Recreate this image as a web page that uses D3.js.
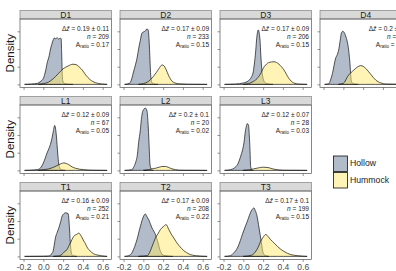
<!DOCTYPE html>
<html><head><meta charset="utf-8">
<script src="https://cdn.jsdelivr.net/npm/d3@7"></script>
<style>
html,body{margin:0;padding:0;background:#fff;}
svg{display:block;font-family:"Liberation Sans",Arial,sans-serif;}
</style></head>
<body><svg id="chart" width="396" height="271"></svg>
<script>
// ---- data ----
const panels = ["D1","D2","D3","D4","L1","L2","L3","T1","T2","T3"];
const dzMean = ["0.19","0.17","0.17","0.2","0.12","0.2","0.12","0.16","0.17","0.17"];
const dzSd   = ["0.11","0.09","0.09","0.1","0.09","0.1","0.07","0.09","0.09","0.1"];
const nObs   = ["209","233","206","195","67","20","28","252","208","199"];
const aRatio = ["0.17","0.15","0.15","0.18","0.05","0.02","0.03","0.21","0.22","0.15"];
const xTicks = [-0.2, 0.0, 0.2, 0.4, 0.6];
const yTicks = [0, 5, 10, 15];
const groups = ["Hollow","Hummock"];

// density curves: [x, density]
const hollowD1 = [[-0.19,0],[-0.12,0.1],[-0.06,0.3],[-0.03,0.8],[0.0,1.7],[0.02,3.5],[0.04,6.2],[0.06,8.2],[0.07,9.7],[0.085,11.3],[0.1,12.6],[0.11,13.1],[0.125,12.9],[0.14,13.2],[0.155,12.8],[0.17,13.1],[0.18,12.9],[0.185,9],[0.19,4],[0.195,1.2],[0.21,0.3],[0.25,0.05],[0.3,0]];
const hummockD1 = [[-0.05,0],[0.0,0.2],[0.05,0.6],[0.1,1.6],[0.15,3.0],[0.2,4.4],[0.25,5.2],[0.3,5.7],[0.33,5.6],[0.36,5.0],[0.4,3.8],[0.43,2.6],[0.47,1.4],[0.5,0.8],[0.55,0.3],[0.6,0.1],[0.645,0]];
const hollowD2 = [[-0.19,0],[-0.14,0.3],[-0.116,1.7],[-0.1,3.5],[-0.08,5.5],[-0.06,8],[-0.047,10.2],[-0.03,12.5],[-0.014,14.5],[0.0,14.8],[0.02,15.1],[0.037,15.7],[0.05,15.2],[0.058,12.5],[0.064,9],[0.07,5],[0.076,2],[0.085,0.6],[0.1,0.2],[0.15,0]];
const hummockD2 = [[-0.05,0],[0.0,0.2],[0.05,0.8],[0.1,2.2],[0.13,3.3],[0.156,4.4],[0.19,5.5],[0.21,5.2],[0.23,4.2],[0.257,2.4],[0.29,0.9],[0.32,0.4],[0.36,0.15],[0.45,0.05],[0.645,0]];
const hollowD3 = [[-0.19,0],[-0.08,0.1],[0.0,0.4],[0.05,1],[0.08,2],[0.1,3.5],[0.11,5.5],[0.125,9.5],[0.135,13],[0.145,15],[0.152,15.4],[0.16,14.5],[0.169,12.3],[0.176,8.5],[0.183,5.5],[0.19,3.2],[0.2,1.7],[0.215,0.6],[0.24,0.2],[0.3,0]];
const hummockD3 = [[0.0,0],[0.05,0.2],[0.1,0.8],[0.15,2.0],[0.18,3.3],[0.2,4.5],[0.226,5.5],[0.26,6.2],[0.31,6.4],[0.36,5.7],[0.41,4.1],[0.46,1.7],[0.51,0.4],[0.56,0.1],[0.645,0]];
const hollowD4 = [[-0.19,0],[-0.146,0.2],[-0.13,1.2],[-0.11,3.1],[-0.078,7.4],[-0.06,8.5],[-0.044,10.2],[-0.03,12.8],[-0.02,14.5],[-0.005,15],[0.005,14.8],[0.023,13.7],[0.04,12],[0.05,10.5],[0.06,8],[0.068,5.5],[0.075,2.5],[0.082,0.8],[0.1,0.2],[0.15,0]];
const hummockD4 = [[-0.05,0],[0.0,0.3],[0.05,2.5],[0.108,4.1],[0.142,4.9],[0.176,5.3],[0.2,5.1],[0.227,4.5],[0.278,2.8],[0.328,1.2],[0.38,0.4],[0.43,0.1],[0.645,0]];
const hollowL1 = [[-0.19,0],[-0.064,0.2],[-0.03,0.65],[0.0,2.1],[0.037,4.9],[0.071,7.3],[0.085,8.8],[0.098,10.6],[0.115,12.7],[0.125,11.5],[0.132,9.7],[0.145,4.9],[0.16,1.1],[0.18,0.2],[0.22,0]];
const hummockL1 = [[-0.05,0],[0.0,0.2],[0.05,0.4],[0.105,0.9],[0.156,1.6],[0.207,2.1],[0.257,1.6],[0.29,1.0],[0.325,0.6],[0.41,0.2],[0.5,0.05],[0.645,0]];
const hollowL2 = [[-0.19,0],[-0.116,0.2],[-0.1,0.8],[-0.08,2.1],[-0.06,4.5],[-0.048,7.8],[-0.03,11.5],[-0.02,14.4],[-0.01,16.3],[0.003,17.2],[0.02,17.6],[0.037,16.8],[0.047,13.5],[0.054,9.7],[0.06,6],[0.064,3],[0.07,1.2],[0.08,0.4],[0.1,0]];
const hummockL2 = [[0.0,0],[0.054,0.2],[0.1,0.5],[0.122,0.6],[0.16,0.9],[0.19,1.1],[0.224,1.1],[0.25,0.9],[0.274,0.6],[0.325,0.2],[0.38,0.05],[0.645,0]];
const hollowL3 = [[-0.19,0],[-0.13,0.2],[-0.09,0.7],[-0.06,1.6],[-0.027,4],[0.006,7.8],[0.023,11.5],[0.04,13.2],[0.052,12.8],[0.06,10],[0.067,5.9],[0.074,1.1],[0.085,0.2],[0.1,0]];
const hummockL3 = [[0.0,0],[0.05,0.1],[0.1,0.4],[0.15,0.7],[0.2,0.9],[0.25,0.8],[0.3,0.4],[0.35,0.15],[0.4,0.05],[0.645,0]];
const hollowT1 = [[-0.19,0],[0.0,0.05],[0.05,0.1],[0.071,0.3],[0.085,0.8],[0.098,1.4],[0.11,3.2],[0.122,5.2],[0.14,6.8],[0.156,8],[0.175,9.8],[0.19,11.4],[0.205,12],[0.224,12.3],[0.25,12.1],[0.258,10.5],[0.264,8],[0.27,5],[0.274,3.3],[0.28,1.5],[0.29,0.5],[0.31,0.1],[0.34,0]];
const hummockT1 = [[0.1,0],[0.15,0.1],[0.18,0.4],[0.2,0.9],[0.22,1.5],[0.24,1.9],[0.255,2.8],[0.274,3.8],[0.29,4.8],[0.308,5.7],[0.342,6.3],[0.359,6.6],[0.375,6.1],[0.393,5.2],[0.41,4.3],[0.427,3.5],[0.44,2.7],[0.46,1.9],[0.49,1.1],[0.51,0.7],[0.545,0.4],[0.58,0.2],[0.645,0]];
const hollowT2 = [[-0.19,0],[-0.15,0.2],[-0.12,0.8],[-0.1,1.9],[-0.065,4.7],[-0.03,8.5],[0.003,11.4],[0.02,12],[0.035,11.3],[0.054,10.4],[0.088,8],[0.122,6.2],[0.149,3.8],[0.173,1.4],[0.206,0.3],[0.25,0.1],[0.3,0]];
const hummockT2 = [[-0.05,0],[0.04,0.2],[0.07,1.5],[0.088,2.8],[0.105,4],[0.122,5.2],[0.15,6.5],[0.173,7.6],[0.206,8.5],[0.23,9.0],[0.257,7.6],[0.28,6.4],[0.308,5.2],[0.33,4.2],[0.359,3.1],[0.41,1.6],[0.46,0.7],[0.53,0.2],[0.645,0]];
const hollowT3 = [[-0.19,0],[-0.13,0.2],[-0.1,0.9],[-0.06,2.4],[-0.03,4.5],[-0.01,6.2],[0.04,9.9],[0.081,12.9],[0.108,13.7],[0.12,13],[0.135,11.8],[0.159,8],[0.183,3.8],[0.2,1.0],[0.22,0.3],[0.26,0]];
const hummockT3 = [[0.0,0],[0.08,0.3],[0.12,1.2],[0.15,2.6],[0.176,4.3],[0.2,5.4],[0.227,6.2],[0.25,5.6],[0.277,4.7],[0.31,3.8],[0.345,2.8],[0.41,1.4],[0.48,0.5],[0.55,0.2],[0.645,0]];

const hollowCurves  = [hollowD1,hollowD2,hollowD3,hollowD4,hollowL1,hollowL2,hollowL3,hollowT1,hollowT2,hollowT3];
const hummockCurves = [hummockD1,hummockD2,hummockD3,hummockD4,hummockL1,hummockL2,hummockL3,hummockT1,hummockT2,hummockT3];
const panelCol = [0,1,2,3,0,1,2,0,1,2];
const panelRow = [0,0,0,0,1,1,1,2,2,2];

// ---- layout ----
const colLeft = 20, colStep = 100, panelW = 91.5;
const rowTop = 10.5, rowStep = 86, stripH = 8.5, panelH = 68.5;
const fillColors = {Hollow:"rgba(100,120,148,0.5)", Hummock:"rgba(255,234,110,0.5)"};

const svg = d3.select("#chart");
const x = d3.scaleLinear().domain([-0.236, 0.689]).range([0, panelW]);
const yMax = d3.max(hollowCurves.concat(hummockCurves), c => d3.max(c, d => d[1]));
const y = d3.scaleLinear().domain([-0.05*yMax, 1.05*yMax]).range([panelH, 0]);
const area = d3.area().x(d => x(d[0])).y0(y(0)).y1(d => y(d[1])).curve(d3.curveMonotoneX);

panels.forEach((name, i) => {
  const c = panelCol[i], r = panelRow[i];
  const gx = colLeft + c*colStep, gy = rowTop + r*rowStep;
  const g = svg.append("g").attr("transform", `translate(${gx},${gy})`);
  // strip
  g.append("rect").attr("x",0).attr("y",0).attr("width",panelW).attr("height",stripH)
    .attr("fill","#d9d9d9").attr("stroke","#6e6e6e").attr("stroke-width",0.6);
  g.append("text").attr("x",panelW/2).attr("y",stripH/2+0.5).attr("text-anchor","middle")
    .attr("dominant-baseline","middle").attr("font-size",8.5).attr("fill","#1a1a1a").text(name);
  const p = g.append("g").attr("transform",`translate(0,${stripH})`);
  p.append("defs").append("clipPath").attr("id","clip"+i).append("rect")
    .attr("width",panelW).attr("height",panelH);
  const pc = p.append("g").attr("clip-path",`url(#clip${i})`);
  pc.append("path").datum(hollowCurves[i]).attr("d",area).attr("fill",fillColors.Hollow)
    .attr("stroke","#111").attr("stroke-width",0.7).attr("stroke-linejoin","round");
  pc.append("path").datum(hummockCurves[i]).attr("d",area).attr("fill",fillColors.Hummock)
    .attr("stroke","#111").attr("stroke-width",0.7).attr("stroke-linejoin","round");
  p.append("rect").attr("width",panelW).attr("height",panelH).attr("fill","none")
    .attr("stroke","#555").attr("stroke-width",0.7);
  // axes
  const xa = d3.axisBottom(x).tickValues(xTicks).tickSize(2.5).tickPadding(1.5)
    .tickFormat(r === 2 ? d3.format(".1f") : () => "");
  const xg = p.append("g").attr("transform",`translate(0,${panelH})`).call(xa);
  xg.select(".domain").remove();
  xg.selectAll("line").attr("stroke","#4d4d4d").attr("stroke-width",0.6);
  xg.selectAll("text").attr("font-size",8.5).attr("fill","#4d4d4d")
    .attr("font-family","Liberation Sans, Arial, sans-serif").text(d => d3.format(".1f")(d).replace("\u2212","-")).style("display", r===2 ? null : "none");
  const ya = d3.axisLeft(y).tickValues(yTicks).tickSize(2.5).tickFormat(() => "");
  const yg = p.append("g").call(ya);
  yg.select(".domain").remove();
  yg.selectAll("line").attr("stroke","#4d4d4d").attr("stroke-width",0.6);
  // annotation
  const tx = panelW - 2.5, fs = 6.5;
  const t1 = p.append("text").attr("x",tx).attr("y",12.3).attr("text-anchor","end").attr("font-size",fs).attr("fill","#1a1a1a");
  t1.append("tspan").text("\u0394");
  t1.append("tspan").attr("font-style","italic").text("z\u0304");
  t1.append("tspan").text(` = ${dzMean[i]} \u00b1 ${dzSd[i]}`);
  const t2 = p.append("text").attr("x",tx).attr("y",20).attr("text-anchor","end").attr("font-size",fs).attr("fill","#1a1a1a");
  t2.append("tspan").attr("font-style","italic").text("n");
  t2.append("tspan").text(` = ${nObs[i]}`);
  const t3 = p.append("text").attr("x",tx).attr("y",27.6).attr("text-anchor","end").attr("font-size",fs).attr("fill","#1a1a1a");
  t3.append("tspan").text("A");
  t3.append("tspan").attr("font-size",4.5).attr("dy",1.5).text("ratio");
  t3.append("tspan").attr("dy",-1.5).text(` = ${aRatio[i]}`);
});

// Density labels
[0,1,2].forEach(r => {
  const cy = rowTop + r*rowStep + stripH + panelH/2;
  svg.append("text").attr("transform",`translate(11,${cy}) rotate(-90)`)
    .attr("text-anchor","middle").attr("dominant-baseline","middle")
    .attr("font-size",11.5).attr("fill","#1a1a1a").text("Density");
});

// legend
const leg = svg.append("g").attr("transform","translate(333,155.5)");
groups.forEach((gname, k) => {
  leg.append("rect").attr("x",0).attr("y",k*16.5).attr("width",15).attr("height",16.5)
    .attr("fill","#fff").attr("stroke","none");
  leg.append("rect").attr("x",0.5).attr("y",k*16.5+0.5).attr("width",14).attr("height",15.5)
    .attr("fill",fillColors[gname]).attr("stroke","#111").attr("stroke-width",0.8);
  leg.append("text").attr("x",17).attr("y",k*16.5+8.5).attr("dominant-baseline","middle")
    .attr("font-size",8.7).attr("fill","#1a1a1a").text(gname);
});
</script></body></html>
